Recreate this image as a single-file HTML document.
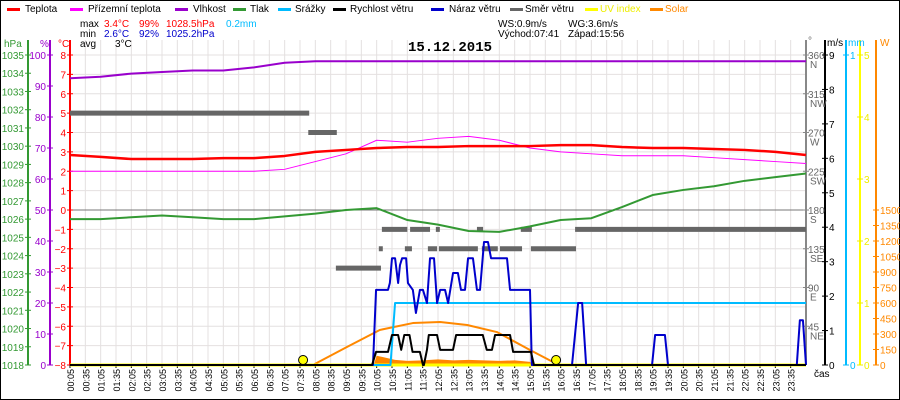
<!DOCTYPE html>
<html><head><meta charset="utf-8"><style>
html,body{margin:0;padding:0;background:#fff}
svg{display:block;font-family:"Liberation Sans",sans-serif}
</style></head><body>
<svg id="chart" width="900" height="400" viewBox="0 0 900 400">
<rect x="0.5" y="0.5" width="899" height="399" fill="#fff" stroke="#000"/>
<g id="grid"></g>
<g id="legend" font-size="10">
<g><rect x="7" y="8" width="13" height="3" fill="#f00"/><text x="25" y="12">Teplota</text></g>
<g><rect x="70" y="8" width="13" height="3" fill="#f0f"/><text x="88" y="12">Přízemní teplota</text></g>
<g><rect x="175" y="8" width="13" height="3" fill="#90c"/><text x="193" y="12">Vlhkost</text></g>
<g><rect x="233" y="8" width="13" height="3" fill="#393"/><text x="250" y="12">Tlak</text></g>
<g><rect x="278" y="8" width="13" height="3" fill="#0bf"/><text x="295" y="12">Srážky</text></g>
<g><rect x="333" y="8" width="13" height="3" fill="#000"/><text x="350" y="12">Rychlost větru</text></g>
<g><rect x="431" y="8" width="13" height="3" fill="#00c"/><text x="449" y="12">Náraz větru</text></g>
<g><rect x="510" y="8" width="13" height="3" fill="#666"/><text x="525" y="12">Směr větru</text></g>
<g><rect x="585" y="8" width="13" height="3" fill="#ff0"/><text x="600" y="12" fill="#ee0">UV index</text></g>
<g><rect x="650" y="8" width="13" height="3" fill="#f80"/><text x="665" y="12" fill="#f80">Solar</text></g>
</g>
<g font-size="10">
<text x="80" y="27">max</text><text x="104" y="27" fill="#f00">3.4°C</text><text x="139" y="27" fill="#f00">99%</text><text x="166" y="27" fill="#f00">1028.5hPa</text><text x="226" y="27" fill="#0bf">0.2mm</text>
<text x="80" y="37">min</text><text x="104" y="37" fill="#00c">2.6°C</text><text x="139" y="37" fill="#00c">92%</text><text x="166" y="37" fill="#00c">1025.2hPa</text>
<text x="80" y="47">avg</text><text x="115" y="47">3°C</text>
<text x="498" y="27">WS:0.9m/s</text><text x="568" y="27">WG:3.6m/s</text>
<text x="498" y="37">Východ:07:41</text><text x="568" y="37">Západ:15:56</text>
</g>
<text x="450" y="51" font-size="14" font-weight="bold" text-anchor="middle" font-family="Liberation Mono, monospace">15.12.2015</text>
<g id="axes" font-size="10"></g>
<g id="series"></g>
</svg>
<script>
// ---- data (hours since 00:05) ----
const hours = [0,1,2,3,4,5,6,7,8,9,10,11,12,13,14,15,16,17,18,19,20,21,22,23,24];
const tempVals = [2.84,2.74,2.63,2.63,2.63,2.68,2.68,2.79,3.0,3.1,3.2,3.25,3.25,3.3,3.3,3.3,3.35,3.35,3.25,3.2,3.2,3.15,3.1,3.0,2.84];
const feelVals = [2.0,2.0,2.0,2.0,2.0,2.0,2.0,2.1,2.5,2.9,3.6,3.5,3.7,3.8,3.6,3.2,3.0,2.9,2.8,2.8,2.8,2.7,2.6,2.5,2.4];
const humVals = [92.5,93,94,94.5,95,95,96,97.5,98,98,98,98,98,98,98,98,98,98,98,98,98,98,98,98,98];
const presVals = [1026.0,1026.0,1026.1,1026.2,1026.1,1026.0,1026.0,1026.15,1026.3,1026.5,1026.6,1025.95,1025.7,1025.35,1025.3,1025.6,1025.95,1026.05,1026.66,1027.32,1027.6,1027.8,1028.1,1028.3,1028.5];
const rainTimes = [0,10.45,10.6,24];
const rainVals = [0,0,0.2,0.2];
const gustTimes = [0,9.88,9.98,10.37,10.43,10.5,10.6,10.7,10.76,10.83,10.96,11.02,11.18,11.28,11.41,11.51,11.64,11.74,11.87,11.97,12.07,12.23,12.33,12.49,12.65,12.75,12.88,12.98,13.14,13.27,13.37,13.5,13.63,13.73,14.25,14.35,15.0,15.06,16.37,16.57,16.7,16.83,18.98,19.08,19.4,19.5,23.7,23.8,23.9,24];
const gustVals = [0,0,2.18,2.18,2.38,3.1,3.1,2.38,2.9,3.1,3.1,2.38,2.18,1.51,2.18,2.18,1.8,3.1,3.1,1.8,2.18,2.18,1.8,2.67,2.67,2.18,2.18,3.1,3.1,2.18,2.18,3.57,3.57,3.1,3.1,2.18,2.18,0,0,1.8,1.8,0,0,0.87,0.87,0,0,1.3,1.3,0];
const windTimes = [0,9.85,9.98,10.37,10.5,10.7,10.8,10.9,11.07,11.17,11.41,11.51,11.54,11.64,11.7,11.97,12.07,12.49,12.59,13.46,13.59,13.76,13.86,14.35,14.45,15.03,15.13,24];
const windVals = [0,0,0.38,0.38,0.87,0.87,0.44,0.87,0.87,0.38,0.38,0,0,0.44,0.87,0.87,0.44,0.44,0.87,0.87,0.44,0.44,0.87,0.87,0.38,0.38,0,0];
const dirStart = [0,7.77,8.67,10.07,10.17,10.92,11.09,11.67,11.93,12.03,13.27,13.43,14.02,14.7,15.03,16.47];
const dirEnd = [7.8,8.7,10.14,10.2,11.0,11.15,11.74,11.97,12.06,13.3,13.47,13.95,14.74,15.06,16.5,24];
const dirVals = [292.5,270,112.5,135,157.5,135,157.5,135,157.5,135,157.5,135,135,157.5,135,157.5];
const solarMaxTimes = [7.6,7.92,9.03,10.1,11.18,12.07,12.95,13.92,15.0,15.75,15.85];
const solarMaxVals = [0,0,174,339,406,416,387,319,145,29,0];
const solarTimes = [9.9,10.0,10.3,10.6,11.0,11.5,12.0,12.5,13.0,13.5,14.0,14.5,15.0,15.1];
const solarVals = [0,90,70,50,40,45,55,45,50,45,40,45,30,0];
const sunTimes = [7.6,15.85];
const timeLabels = [];
for (let i=0;i<48;i++){const m=5+30*i;timeLabels.push(String(Math.floor(m/60)).padStart(2,'0')+':'+String(m%60).padStart(2,'0'));}

// ---- scales ----
const X0=70,X1=806,YT=55,YB=365;
const x=h=>X0+h*(X1-X0)/24;
const yT=v=>YT+(8-v)*(YB-YT)/16;
const yH=v=>YB-v*(YB-YT)/100;
const yP=v=>YB-(v-1018)*(YB-YT)/17;
const yW=v=>YB-v*(YB-YT)/9;
const yD=v=>YB-v*(YB-YT)/360;
const yR=v=>YB-v*(YB-YT);
const yS=v=>YB-v*155/1500;
const yU=v=>YB-v*(YB-YT)/5;

const NS='http://www.w3.org/2000/svg';
function mk(tag,attrs,parent,txt){const e=document.createElementNS(NS,tag);for(const k in attrs)e.setAttribute(k,attrs[k]);if(txt!==undefined)e.textContent=txt;parent.appendChild(e);return e;}
const grid=document.getElementById('grid'),axes=document.getElementById('axes'),series=document.getElementById('series');

for(let i=0;i<48;i++){const gx=x(i*0.5);const l=mk('line',{x1:gx,x2:gx,y1:40,y2:YB,stroke:'#e4e0e0','stroke-width':1},grid);

}
for(let v=-8;v<=8;v++){const gy=yT(v);const l=mk('line',{x1:X0,x2:X1,y1:gy,y2:gy,stroke:'#e4e0e0','stroke-width':1},grid);

}
const zl=mk('line',{x1:X0,x2:X1,y1:yT(0),y2:yT(0),stroke:'#777','stroke-width':1},grid);



function vAxis(ax,col,name){const l=mk('line',{x1:ax,x2:ax,y1:40,y2:YB,stroke:col,'stroke-width':2},axes);

}
vAxis(28,'#393','hpa-axis');vAxis(50,'#90c','humidity-axis');vAxis(70,'#f00','temp-axis');
mk('text',{x:4,y:47,fill:'#393'},axes,'hPa');mk('text',{x:40,y:47,fill:'#90c'},axes,'%');mk('text',{x:58,y:47,fill:'#f00'},axes,'°C');
for(let p=1018;p<=1035;p++){const yy=yP(p);mk('line',{x1:25,x2:31,y1:yy,y2:yy,stroke:'#393'},axes);
const t=mk('text',{x:24,y:yy+4,fill:'#393','text-anchor':'end'},axes,String(p));

}
for(let h=0;h<=100;h+=10){const yy=yH(h);mk('line',{x1:47,x2:53,y1:yy,y2:yy,stroke:'#90c'},axes);
const t=mk('text',{x:46,y:yy+4,fill:'#90c','text-anchor':'end'},axes,String(h));

}
for(let v=-8;v<=8;v++){const yy=yT(v);mk('line',{x1:67,x2:73,y1:yy,y2:yy,stroke:'#f00'},axes);
const t=mk('text',{x:66,y:yy+4,fill:'#f00','text-anchor':'end'},axes,String(v).replace('-','−'));

}

vAxis(806,'#888','direction-axis');vAxis(825,'#000','wind-axis');vAxis(846,'#0bf','rain-axis');vAxis(860,'#ff0','uv-axis');vAxis(876,'#f80','solar-axis');
mk('text',{x:808,y:44,fill:'#666'},axes,'°');mk('text',{x:827,y:46},axes,'m/s');mk('text',{x:848,y:46,fill:'#0bf'},axes,'mm');mk('text',{x:880,y:46,fill:'#f80'},axes,'W');
const dirNames=['','NE','E','SE','S','SW','W','NW','N'];
for(let i=1;i<=8;i++){const d=i*45,yy=yD(d);mk('line',{x1:803,x2:809,y1:yy,y2:yy,stroke:'#888'},axes);
const t=mk('text',{x:808,y:yy+4,fill:'#666'},axes,String(d));


mk('text',{x:810,y:yy+13,fill:'#666'},axes,dirNames[i]);}
for(let v=0;v<=9;v++){const yy=yW(v);mk('line',{x1:822,x2:828,y1:yy,y2:yy,stroke:'#000'},axes);
const t=mk('text',{x:829,y:yy+4},axes,String(v));

}
for(let v=0;v<=1;v++){const yy=yR(v);mk('line',{x1:843,x2:849,y1:yy,y2:yy,stroke:'#0bf'},axes);mk('text',{x:850,y:yy+4,fill:'#0bf'},axes,String(v));}
for(let v=0;v<=5;v++){const yy=yU(v);mk('line',{x1:857,x2:863,y1:yy,y2:yy,stroke:'#ee0'},axes);mk('text',{x:864,y:yy+4,fill:'#ee0'},axes,String(v));}
for(let v=0;v<=1500;v+=150){const yy=yS(v);mk('line',{x1:873,x2:879,y1:yy,y2:yy,stroke:'#f80'},axes);
const t=mk('text',{x:880,y:yy+4,fill:'#f80'},axes,String(v));

}

const xa=mk('line',{x1:X0,x2:X1,y1:YB+1,y2:YB+1,stroke:'#000','stroke-width':1},axes);


timeLabels.forEach((lab,i)=>{const gx=x(i*0.5);mk('line',{x1:gx,x2:gx,y1:YB,y2:YB+3,stroke:'#000'},axes);
const t=mk('text',{transform:`translate(${gx+4},369) rotate(-90)`,'text-anchor':'end','font-size':9},axes,lab);

});
mk('text',{x:814,y:377},axes,'čas');

function poly(ts,vs,fy,col,w,name,step){let pts=[];ts.forEach((t,i)=>{if(step&&i>0)pts.push(x(t)+','+fy(vs[i-1]));pts.push(x(t)+','+fy(vs[i]));});
const p=mk('polyline',{points:pts.join(' '),fill:'none',stroke:col,'stroke-width':w,'stroke-linejoin':'round'},series);

return p;}

{let pts=[x(solarTimes[0])+','+YB];solarTimes.forEach((t,i)=>pts.push(x(t)+','+yS(solarVals[i])));pts.push(x(solarTimes[solarTimes.length-1])+','+YB);
const p=mk('polygon',{points:pts.join(' '),fill:'#f80'},series);

}
poly(solarMaxTimes,solarMaxVals,yS,'#f80',2,'solar-max-line');
poly([0,24],[0,0],yU,'#ff0',3,'uv-line');
dirStart.forEach((s,i)=>{const yy=yD(dirVals[i]);const r=mk('rect',{x:x(s),y:yy-2.5,width:x(dirEnd[i])-x(s),height:5,fill:'#666'},series);

});
poly(hours,humVals,yH,'#90c',2,'humidity-line');
poly(hours,presVals,yP,'#393',2,'pressure-line');
poly(hours,feelVals,yT,'#f0f',1,'apparent-temp-line');
poly(hours,tempVals,yT,'#f00',2.5,'temperature-line');
poly(rainTimes,rainVals,yR,'#0bf',2,'precipitation-line');
poly(gustTimes,gustVals,yW,'#00c',2,'wind-gust-line');
poly(windTimes,windVals,yW,'#000',2,'wind-speed-line');
sunTimes.forEach(t=>{const c=mk('circle',{cx:x(t),cy:YB-5,r:4.5,fill:'#ff0',stroke:'#000','stroke-width':1},series);

});
</script>
</body></html>
